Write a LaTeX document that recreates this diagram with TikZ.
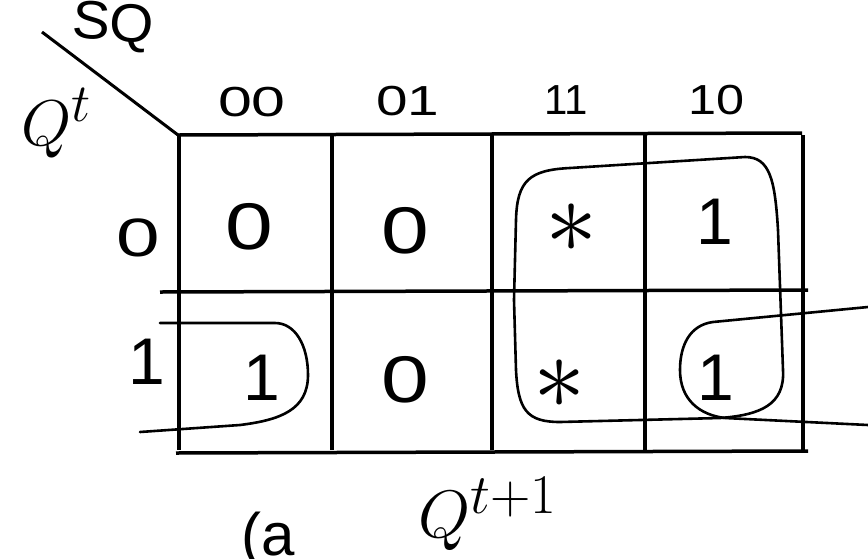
\documentclass[tikz,border=0pt]{standalone}
\usepackage{fontspec}
\setmainfont{Liberation Sans}
\setsansfont{Liberation Sans}
\usepackage{tikz}
\usepackage{amsmath}
\usetikzlibrary{positioning,calc}
\newcommand{\wideset}[2][1.4]{\scalebox{#1}[1]{#2}}
\newcommand{\bigmath}[2]{\scalebox{#1}{\Huge$#2$}}
\tikzset{
    grid line/.style={
        line width=3.5pt,
        draw=black,
    },
    group loop/.style={
        line width=2.6pt,
        draw=black,
        line cap=round,
    },
    head/.style={
        font=\fontsize{42}{42}\selectfont,
        inner sep=0pt,
    },
    entry/.style={
        font=\fontsize{66}{66}\selectfont,
        inner sep=0pt,
    },
    dontcare/.style={
        inner sep=0pt,
    },
}
\begin{document}
\begin{tikzpicture}[x=1pt,y=-1pt]
    \useasboundingbox (0,0) rectangle (868,558);
    % map corner and grid
    \coordinate (corner) at (178,135);
    \coordinate (slash) at (42,32);
    \draw[line width=3pt] (slash) -- (corner);
    \draw[grid line] (corner) -- (802,133);
    \draw[grid line] (160,292) -- (808,290);
    \draw[grid line] (176,453) -- (808,451);
    \foreach \x in {179,332,492,645,803}
        \draw[grid line] (\x,135) -- (\x,450);
    % headings
    \node[font=\fontsize{54}{54}\selectfont,rotate=-4,inner sep=0pt] (SQ) at (113,27) {\wideset[1.05]{SQ}};
    \node[inner sep=0pt] (Qt) at (57,123) {\bigmath{2.6}{Q^t}};
    \node[inner sep=0pt] (Qnext) at (488,514) {\bigmath{2.7}{Q^{t+1}}};
    \node[font=\fontsize{60}{60}\selectfont,inner sep=0pt,anchor=north] (caption) at (268,512) {(a};
    \node[head] (c00) at (252,102) {\wideset[1.45]{00}};
    \node[head] (c01) at (408,101) {\wideset[1.35]{01}};
    \node[head] (c11) at (566,100) {\wideset[1.0]{11}};
    \node[head] (c10) at (717,100) {\wideset[1.2]{10}};
    \node[entry,font=\fontsize{54}{54}\selectfont] (r0) at (138,238) {\wideset[1.45]{0}};
    \node[entry] (r1) at (147,362) {1};
    % cells
    \node[entry] (m00) at (249,227) {\wideset[1.3]{0}};
    \node[entry] (m01) at (405,231) {\wideset[1.3]{0}};
    \node[dontcare] (m03) at (572,228) {\bigmath{4.2}{\ast}};
    \node[entry] (m02) at (715,222) {1};
    \node[entry] (m10) at (262,378) {1};
    \node[entry] (m11) at (405,380) {\wideset[1.3]{0}};
    \node[dontcare] (m13) at (560,384) {\bigmath{4.2}{\ast}};
    \node[entry] (m12) at (716,378) {1};
    % groups
    \draw[group loop] (514,300) -- (516,220) .. controls (517,180) and (530,170) .. (570,168)
        -- (745,157) .. controls (770,157) and (775,180) .. (778,230)
        -- (783,370) .. controls (785,405) and (760,415) .. (720,418)
        -- (560,422) .. controls (527,422) and (518,410) .. (516,370) -- cycle;
    \draw[group loop] (868,307) -- (713,322) .. controls (690,325) and (680,345) .. (680,370)
        .. controls (680,400) and (700,415) .. (725,418) -- (868,425);
    \draw[group loop] (160,323) -- (275,323) .. controls (295,323) and (308,345) .. (308,375)
        .. controls (308,410) and (280,420) .. (240,425) -- (140,432);
\end{tikzpicture}
\end{document}
